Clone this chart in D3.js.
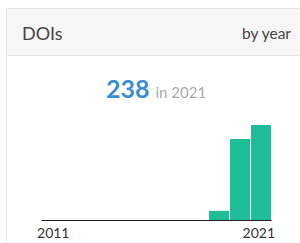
<!DOCTYPE html>
<html>
<head>
<meta charset="utf-8">
<script src="https://cdn.jsdelivr.net/npm/d3@7"></script>
<style>
  body { margin: 0; background: #fff; }
</style>
</head>
<body>
<div id="chart"></div>
<script>
// DOIs by year panel

const years = ["2011","2012","2013","2014","2015","2016","2017","2018","2019","2020","2021"];
const counts = [0, 0, 0, 0, 0, 0, 0, 0, 23, 203, 238];
const tickYears = ["2011", "2021"];
const title = "DOIs";
const modeLabel = "by year";

const width = 300, height = 243;
const font = "Lato, 'Open Sans', sans-serif";

const svg = d3.select("#chart").append("svg")
    .attr("width", width)
    .attr("height", height);

// panel frame + header
svg.append("rect")
    .attr("x", 6.5).attr("y", 8.5)
    .attr("width", 300).attr("height", 260)
    .attr("fill", "#fff")
    .attr("stroke", "#e6e6e6");

svg.append("rect")
    .attr("x", 6.5).attr("y", 8.5)
    .attr("width", 300).attr("height", 47)
    .attr("fill", "#f6f6f6")
    .attr("stroke", "#e6e6e6");

svg.append("text")
    .attr("x", 22).attr("y", 40)
    .style("font", `18px ${font}`)
    .attr("fill", "#444")
    .text(title);

svg.append("text")
    .attr("x", 291).attr("y", 39)
    .attr("text-anchor", "end")
    .style("font", `15.5px ${font}`)
    .attr("fill", "#444")
    .text(modeLabel);

// headline number
const last = counts.length - 1;
const headline = svg.append("text")
    .attr("x", 106).attr("y", 98);
headline.append("tspan")
    .style("font", `bold 25px ${font}`)
    .attr("fill", "#3a8ed4")
    .text(counts[last]);
headline.append("tspan")
    .attr("dx", 6)
    .style("font", `15px ${font}`)
    .attr("fill", "#aaa")
    .text(`in ${years[last]}`);

// bars
const x = d3.scaleBand()
    .domain(years)
    .range([41, 271])
    .paddingInner(0.05)
    .paddingOuter(0);

const y = d3.scaleLinear()
    .domain([0, d3.max(counts)])
    .range([220, 125]);

svg.append("g")
  .selectAll("rect")
  .data(years.map((yr, i) => ({yr, v: counts[i]})).filter(d => d.v > 0))
  .join("rect")
    .attr("x", d => x(d.yr))
    .attr("y", d => y(d.v))
    .attr("width", x.bandwidth())
    .attr("height", d => y(0) - y(d.v))
    .attr("fill", "#1dbd96");

// axis
const axis = d3.axisBottom(x).tickValues(tickYears).tickSize(0).tickPadding(8);
const gx = svg.append("g")
    .attr("transform", "translate(0,220)")
    .call(axis);
gx.select(".domain").attr("stroke", "#222").attr("stroke-width", 1.2);
gx.selectAll(".tick text")
    .style("font", `14px ${font}`)
    .attr("fill", "#333")
    .attr("text-anchor", (d, i) => i === 0 ? "start" : "end")
    .attr("x", (d, i) => i === 0 ? -x.bandwidth() / 2 - 4 : x.bandwidth() / 2 + 4);
</script>
</body>
</html>
